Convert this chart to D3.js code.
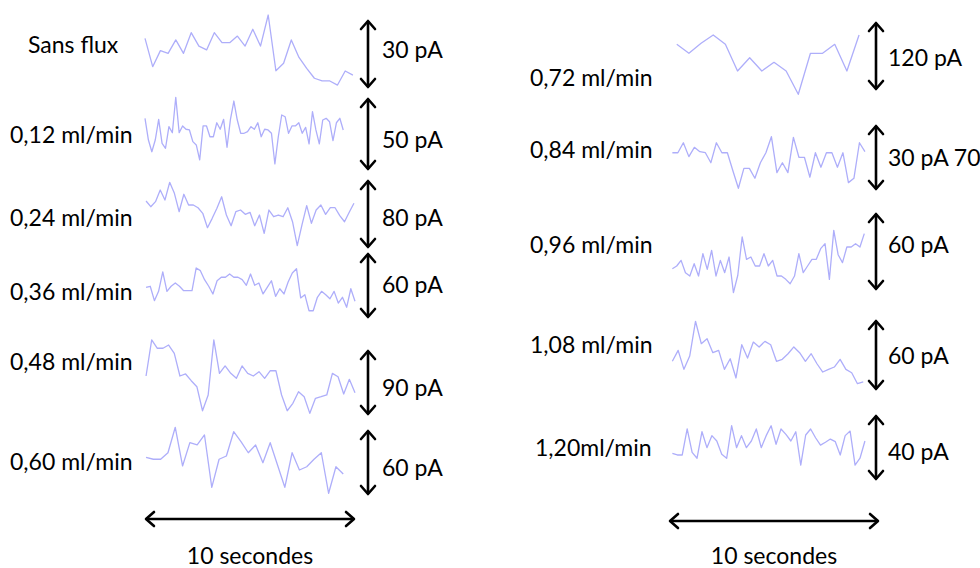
<!DOCTYPE html>
<html><head><meta charset="utf-8">
<script src="https://cdn.jsdelivr.net/npm/d3@7"></script>
<style>html,body{margin:0;padding:0;background:#fff;}svg{display:block;font-family:Lato,"Open Sans",sans-serif;}</style>
</head><body><svg id="c" width="980" height="568"></svg>
<script>
// ---------- DATA ----------
const conditions = ["Sans flux","0,12 ml/min","0,24 ml/min","0,36 ml/min","0,48 ml/min","0,60 ml/min",
                    "0,72 ml/min","0,84 ml/min","0,96 ml/min","1,08 ml/min","1,20ml/min"];
const scaleBars = [30,50,80,60,90,60,120,30,60,60,40];            // pA
const scaleLabels = ["30 pA","50 pA","80 pA","60 pA","90 pA","60 pA","120 pA","30 pA 70","60 pA","60 pA","40 pA"];
const timeBar = 10;                                                  // seconds
const timeLabel = "10 secondes";
const tStart = [0,0,0.05,0.05,0.05,0.05,0.37,0.16,0.16,0.16,0.16];  // s
const tEnd   = [9.9,9.44,9.95,10,10,9.44,9.05,9.33,9.3,9.25,9.33];  // s

// current traces (pA, relative to scale-bar centre)
const sansFlux = [6.9,-5.6,1.5,0.3,6.2,0.3,9.4,3.5,1.8,9.4,5.0,5.0,7.9,3.5,10.9,3.5,17.2,-7.4,-4.1,6.2,-1.5,-6.3,-10.7,-11.9,-11.9,-13.7,-7.5,-9.3];
const flow012 = [10.9,-4.2,-12.3,-4.2,10.2,-6.5,-9.9,5.1,0.9,25.5,0.9,5.6,3.3,2.8,-5.3,-7.6,-18.0,5.6,5.6,-1.9,-1.9,7.8,3.3,10.2,-9.2,10.2,22.9,9.7,0.5,0.5,1.6,5.1,3.3,7.8,-1.9,3.3,2.8,0.5,-20.8,-1.9,13.2,12.0,0.5,5.6,5.6,7.8,0.5,4.6,-6.9,15.5,2.8,-6.9,9.7,10.9,8.5,-4.6,7.8,10.9,2.8];
const flow024 = [15.3,8.6,14.5,28.2,16.5,37.3,24.3,2.7,23.2,10.6,10.6,7.4,0.8,-16.1,-5.1,6.7,20.3,-1.2,-13.8,2.7,4.7,-0.4,2.0,-13.8,-1.2,-22.7,4.7,-3.2,-1.2,-3.2,7.4,-9.1,-37.3,-12.9,9.8,-10.9,4.7,10.6,-0.4,7.4,7.4,-2.0,-9.1,2.0,12.6];
const flow036 = [-1.7,-0.7,-14.0,-5.4,12.5,-5.4,-0.7,2.3,-0.7,-4.8,-4.8,-4.8,16.2,13.7,5.4,-0.7,-7.8,4.4,7.6,7.6,10.6,7.6,7.6,5.4,0.2,10.6,0.2,2.3,-7.8,-1.7,4.4,-10.0,-3.0,-7.8,3.2,11.5,15.5,-11.5,-8.5,-23.3,-23.3,-10.9,-5.4,-8.5,-12.2,-5.4,-16.2,-10.9,-20.1,-3.0,-14.6];
const flow048 = [9.0,58.9,47.4,47.4,51.9,40.4,9.0,11.8,2.5,-5.8,-39.1,-17.3,58.9,12.7,22.9,12.7,5.8,22.9,12.7,9.0,15.0,5.8,16.3,16.3,-17.3,-39.1,-28.8,-12.7,-19.7,-42.7,-21.9,-19.7,-17.3,12.7,8.0,-15.9,4.4,-14.1];
const flow060 = [4.8,3.0,3.0,9.0,32.5,-3.2,18.3,16.2,25.4,-22.9,3.0,6.0,28.4,19.2,9.0,16.2,-0.2,18.3,-2.3,-22.9,9.0,-6.9,-3.9,3.0,9.0,-28.4,-3.9,-10.6];
const flow072 = [20.6,4.8,22.4,37.1,20.6,-26.5,-3.0,-26.5,-11.1,-26.5,-67.6,4.8,4.8,20.6,-26.5,37.1];
const flow084 = [2.2,2.2,6.8,0.4,4.7,2.7,2.2,-2.4,6.8,2.2,2.2,-6.1,-14.2,-5.0,-5.0,-9.6,-2.4,2.2,9.6,-7.0,-2.4,-7.0,9.3,0.1,0.1,-9.1,2.2,-4.5,2.2,2.2,-4.5,2.2,-11.6,-9.6,6.8,2.7];
const flow096 = [-13.4,-11.3,-6.9,-16.5,-19.1,-9.5,-19.1,-1.7,-13.9,0.9,-19.1,-6.9,-16.5,-4.3,-32.1,-18.5,11.3,-6.1,-4.3,-11.3,-11.3,-1.7,-11.3,-6.9,-19.1,-19.1,-21.7,-25.1,-19.1,-1.7,-16.5,-11.3,-6.1,-6.1,2.2,6.1,-21.7,16.5,-2.5,-8.7,3.5,3.5,6.1,3.5,13.9];
const flow108 = [-5.4,4.0,-12.3,-0.9,28.9,9.7,14.0,2.0,4.0,-12.3,-3.2,-19.7,8.8,-2.6,11.1,6.9,11.7,8.8,-5.4,-3.7,1.1,6.9,2.0,-5.4,1.1,-7.5,-14.6,-12.3,-10.3,-3.7,-12.3,-15.2,-24.6,-23.1];
const flow120 = [-3.6,-4.6,-4.6,11.4,-3.0,-6.6,9.7,-0.1,7.3,4.0,-4.2,-6.6,13.4,-0.1,7.3,-0.1,4.0,11.4,-0.1,7.3,13.4,2.0,11.4,8.1,4.0,9.7,-10.8,7.7,11.4,6.0,1.5,3.2,5.2,3.6,-4.6,7.3,10.1,-10.8,-6.6,4.0];
const traces = [sansFlux,flow012,flow024,flow036,flow048,flow060,flow072,flow084,flow096,flow108,flow120];

// ---------- LAYOUT ----------
const side    = ["L","L","L","L","L","L","R","R","R","R","R"];
const centerY = [54,134,214,285.5,382.5,462.5,56,157.5,251.5,355,447.5];
const barPx   = [68,72,68,65,65,65,68,65,77,70,65];
const condX   = [28,10,10,10,10,10,530,530,530,530,535];
const condY   = [45,135,218,292,362,462,78,150,245,345,448];
const sLabelY = [50,140,218,285,388,468,58,158,245,356,452];
const L = {x0:145, x1:355, barX:368, labelX:382, timeY:519, textY:556};
const R = {x0:669, x1:879, barX:876, labelX:888, timeY:521, textY:556};

const svg = d3.select("#c");
const FS = 23;

function chevron(g, x, y, dir, horiz){
  const a = 7, b = 8;
  let p;
  if(!horiz) p = [[x-a, y + dir*b],[x,y],[x+a, y + dir*b]];
  else p = [[x + dir*b, y-a],[x,y],[x + dir*b, y+a]];
  g.append("path").attr("d", d3.line()(p)).attr("fill","none").attr("stroke","#000")
   .attr("stroke-width",2.6).attr("stroke-linecap","round").attr("stroke-linejoin","round");
}

traces.forEach((vals,i)=>{
  const S = side[i]==="L" ? L : R;
  const x = d3.scaleLinear().domain([0,timeBar]).range([S.x0,S.x1]);
  const y = d3.scaleLinear().domain([-scaleBars[i]/2, scaleBars[i]/2])
              .range([centerY[i]+barPx[i]/2, centerY[i]-barPx[i]/2]);
  const n = vals.length, dt = (tEnd[i]-tStart[i])/(n-1);
  const line = d3.line().x((d,k)=>x(tStart[i]+k*dt)).y(d=>y(d));
  svg.append("path").datum(vals).attr("d",line).attr("fill","none")
     .attr("stroke","#aeaefa").attr("stroke-width",1.3).attr("stroke-linejoin","round");

  const g = svg.append("g");
  const yt = y(scaleBars[i]/2), yb = y(-scaleBars[i]/2);
  g.append("line").attr("x1",S.barX).attr("x2",S.barX).attr("y1",yt+1).attr("y2",yb-1)
   .attr("stroke","#000").attr("stroke-width",2.6);
  chevron(g,S.barX,yt+1,1,false);
  chevron(g,S.barX,yb-1,-1,false);
  svg.append("text").attr("x",S.labelX).attr("y",sLabelY[i]).attr("dy","0.35em")
     .attr("font-size",FS).attr("fill","#000").text(scaleLabels[i]);
  svg.append("text").attr("x",condX[i]).attr("y",condY[i]).attr("dy","0.35em")
     .attr("font-size",FS).attr("fill","#000").text(conditions[i]);
});

[L,R].forEach(S=>{
  const x = d3.scaleLinear().domain([0,timeBar]).range([S.x0,S.x1]);
  const g = svg.append("g");
  g.append("line").attr("x1",x(0)+1).attr("x2",x(timeBar)-1).attr("y1",S.timeY).attr("y2",S.timeY)
   .attr("stroke","#000").attr("stroke-width",2.6);
  chevron(g,x(0)+1,S.timeY,1,true);
  chevron(g,x(timeBar)-1,S.timeY,-1,true);
  svg.append("text").attr("x",(x(0)+x(timeBar))/2).attr("y",S.textY).attr("dy","0.35em")
     .attr("text-anchor","middle").attr("font-size",FS).attr("fill","#000").text(timeLabel);
});
</script></body></html>
